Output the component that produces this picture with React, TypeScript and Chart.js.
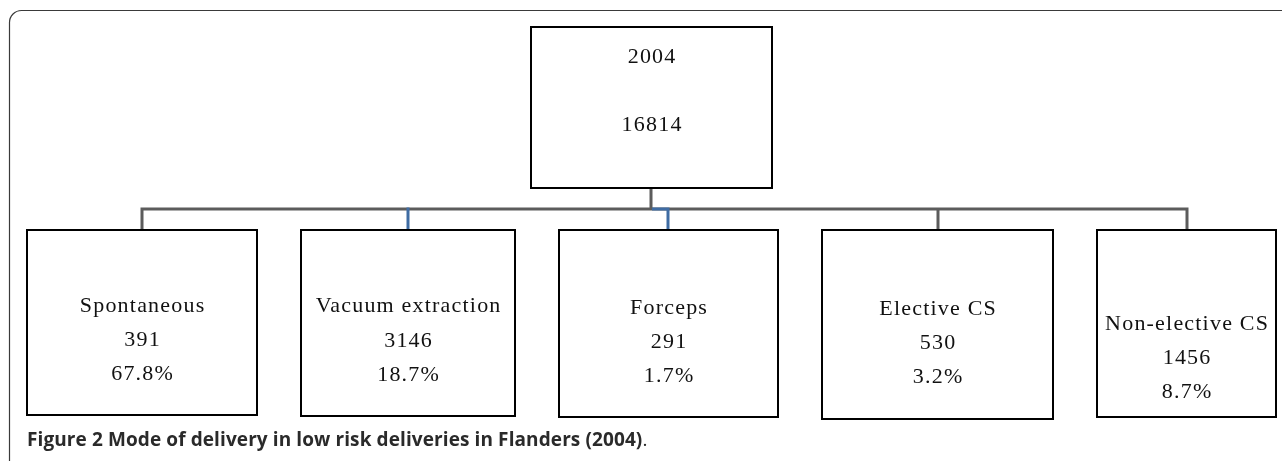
import React, { useEffect, useRef } from "react";
import { Chart, registerables } from "chart.js";

Chart.register(...registerables);

// ---- data ----
const rootYear = "2004";
const rootTotal = 16814;
const categories = ["Spontaneous", "Vacuum extraction", "Forceps", "Elective CS", "Non-elective CS"];
const counts = [391, 3146, 291, 530, 1456];
const percents = ["67.8%", "18.7%", "1.7%", "3.2%", "8.7%"];
const captionBold = "Figure 2 Mode of delivery in low risk deliveries in Flanders (2004)";
const captionTail = ".";

// ---- layout (diagram geometry in the scale's units) ----
const rootBox = { x0: 531, x1: 772, y0: 27, y1: 188, textY: [57, 125] };
const childBoxes = [
  { x0: 27, x1: 257, y0: 230, y1: 415, drop: 142, textY: [306, 340, 374] },
  { x0: 301, x1: 515, y0: 230, y1: 416, drop: 408, textY: [306, 341, 375] },
  { x0: 559, x1: 778, y0: 230, y1: 417, drop: 668, textY: [308, 342, 376] },
  { x0: 822, x1: 1053, y0: 230, y1: 419, drop: 938, textY: [309, 343, 377] },
  { x0: 1097, x1: 1276, y0: 230, y1: 417, drop: 1187, textY: [324, 358, 392] },
];
const busY = 209;
const rootDropX = 651;
const blueDrops = [1, 2];

const treePlugin = {
  id: "tree",
  afterDraw(chart: any) {
    const ctx = chart.ctx as CanvasRenderingContext2D;
    const sx = chart.scales.x;
    const sy = chart.scales.y;
    const X = (v: number) => sx.getPixelForValue(v);
    const Y = (v: number) => sy.getPixelForValue(v);
    ctx.save();

    // outer rounded frame
    ctx.strokeStyle = "#3a3a3a";
    ctx.lineWidth = 1.2;
    ctx.beginPath();
    ctx.roundRect(X(9.5), Y(10.5), X(1300) - X(9.5), Y(480) - Y(10.5), 12);
    ctx.stroke();

    // connectors (gray)
    ctx.strokeStyle = "#5c5c5c";
    ctx.lineWidth = 3;
    ctx.lineCap = "butt";
    ctx.beginPath();
    ctx.moveTo(X(rootDropX), Y(rootBox.y1));
    ctx.lineTo(X(rootDropX), Y(busY));
    const first = childBoxes[0].drop;
    const last = childBoxes[childBoxes.length - 1].drop;
    ctx.moveTo(X(first), Y(childBoxes[0].y0));
    ctx.lineTo(X(first), Y(busY));
    ctx.lineTo(X(last), Y(busY));
    ctx.lineTo(X(last), Y(childBoxes[childBoxes.length - 1].y0));
    childBoxes.forEach((b, i) => {
      if (i === 0 || i === childBoxes.length - 1 || blueDrops.includes(i)) return;
      ctx.moveTo(X(b.drop), Y(busY));
      ctx.lineTo(X(b.drop), Y(b.y0));
    });
    ctx.stroke();

    // blue connectors
    ctx.strokeStyle = "#3f6ca3";
    ctx.beginPath();
    blueDrops.forEach((i) => {
      const b = childBoxes[i];
      if (b.drop > rootDropX) {
        ctx.moveTo(X(rootDropX + 1), Y(busY));
        ctx.lineTo(X(b.drop), Y(busY));
      }
      ctx.moveTo(X(b.drop), Y(busY - 1.5));
      ctx.lineTo(X(b.drop), Y(b.y0));
    });
    ctx.stroke();

    // boxes
    ctx.strokeStyle = "#000";
    ctx.lineWidth = 2;
    ctx.fillStyle = "#fff";
    const drawBox = (b: any) => {
      ctx.fillRect(X(b.x0), Y(b.y0), X(b.x1) - X(b.x0), Y(b.y1) - Y(b.y0));
      ctx.strokeRect(X(b.x0), Y(b.y0), X(b.x1) - X(b.x0), Y(b.y1) - Y(b.y0));
    };
    drawBox(rootBox);
    childBoxes.forEach(drawBox);

    // box text
    ctx.fillStyle = "#111";
    ctx.font = "22px 'Liberation Serif'";
    ctx.textBaseline = "middle";
    ctx.textAlign = "left";
    const sp = 1.2;
    (ctx as any).letterSpacing = sp + "px";
    const centered = (t: string, cx: number, cy: number) => {
      const w = ctx.measureText(t).width - sp;
      ctx.fillText(t, cx - w / 2, cy);
    };
    const rcx = (X(rootBox.x0) + X(rootBox.x1)) / 2;
    centered(rootYear, rcx, Y(rootBox.textY[0]));
    centered(String(rootTotal), rcx, Y(rootBox.textY[1]));
    childBoxes.forEach((b, i) => {
      const cx = (X(b.x0) + X(b.x1)) / 2;
      centered(categories[i], cx, Y(b.textY[0]));
      centered(String(counts[i]), cx, Y(b.textY[1]));
      centered(percents[i], cx, Y(b.textY[2]));
    });

    // caption
    (ctx as any).letterSpacing = "0.1px";
    ctx.textBaseline = "alphabetic";
    ctx.fillStyle = "#2a2a2a";
    ctx.font = "bold 19px 'Open Sans'";
    ctx.fillText(captionBold, X(27), Y(446));
    const w = ctx.measureText(captionBold).width;
    ctx.font = "19px 'Open Sans'";
    ctx.fillText(captionTail, X(27) + w, Y(446));
    (ctx as any).letterSpacing = "0px";

    ctx.restore();
  },
};

export default function App() {
  const ref = useRef<HTMLCanvasElement | null>(null);
  useEffect(() => {
    document.body.style.margin = "0";
    const chart = new Chart(ref.current as HTMLCanvasElement, {
      type: "scatter",
      data: { datasets: [{ data: [], pointRadius: 0 }] },
      options: {
        animation: false,
        responsive: false,
        devicePixelRatio: 1,
        layout: { padding: 0 },
        plugins: { legend: { display: false }, tooltip: { enabled: false } },
        scales: {
          x: { type: "linear", min: 0, max: 1282, display: false },
          y: { type: "linear", min: 0, max: 461, reverse: true, display: false },
        },
      },
      plugins: [treePlugin],
    });
    return () => chart.destroy();
  }, []);
  return (
    <div style={{ width: 1282, height: 461, background: "#fff" }}>
      <canvas ref={ref} width={1282} height={461} style={{ display: "block" }} />
    </div>
  );
}
